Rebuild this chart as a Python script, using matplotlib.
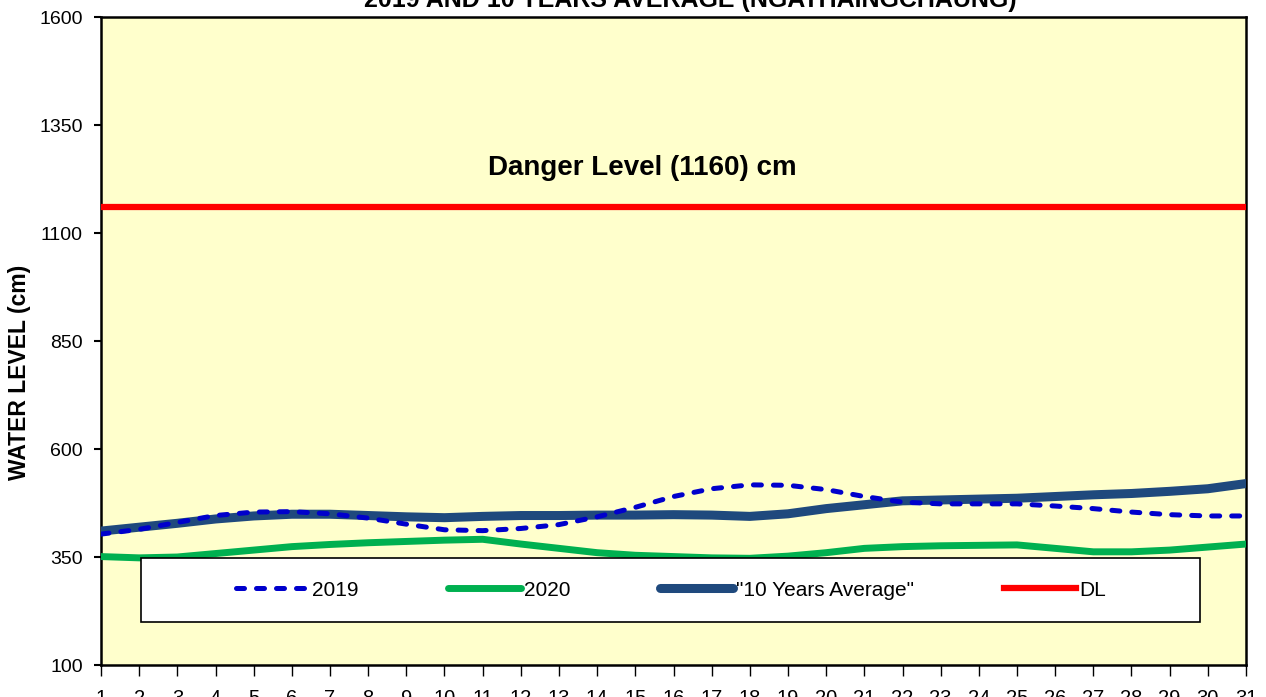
import matplotlib
matplotlib.use("Agg")
import matplotlib.pyplot as plt
from matplotlib.patches import Rectangle
from matplotlib import font_manager as fm

days = list(range(1, 32))
y2019 = [403, 414, 430, 446, 454, 455, 450, 440, 426, 413, 411, 416, 425, 443, 465, 490,
         508, 517, 516, 506, 490, 477, 473, 473, 473, 468, 462, 454, 448, 445, 445]
y2020 = [351, 348, 350, 358, 366, 374, 379, 383, 386, 389, 391, 380, 370, 360, 354, 351,
         348, 347, 352, 360, 370, 374, 376, 377, 378, 370, 362, 362, 366, 373, 380]
avg10 = [410, 419, 428, 438, 445, 449, 449, 446, 443, 441, 444, 446, 446, 447, 447, 448,
         447, 444, 450, 462, 471, 480, 482, 484, 486, 490, 494, 497, 502, 508, 520]
danger_level = 1160
yticks = [100, 350, 600, 850, 1100, 1350, 1600]

names = {f.name for f in fm.fontManager.ttflist}
base = "Liberation Sans" if "Liberation Sans" in names else "DejaVu Sans"
narrow = "Liberation Sans Narrow" if "Liberation Sans Narrow" in names else base
plt.rcParams["font.family"] = [base, "DejaVu Sans"]

fig = plt.figure(figsize=(12.66, 6.97), dpi=100)
fig.patch.set_facecolor("white")
ax = fig.add_axes([101/1266, 1 - 665/697, 1145/1266, 648/697])
ax.set_facecolor("#FFFFCC")

ax.plot(days, avg10, color="#1F497D", lw=6.5, solid_capstyle="round", solid_joinstyle="round",
        label='"10 Years Average"', zorder=3)
ax.plot(days, y2020, color="#00B050", lw=5, solid_capstyle="round", solid_joinstyle="round",
        label="2020", zorder=3)
ax.plot(days, y2019, color="#0000CC", lw=3.6, dashes=(1.6, 2.4), dash_capstyle="round",
        label="2019", zorder=4)
ax.plot([days[0], days[-1]], [danger_level, danger_level], color="#FF0000", lw=4.5,
        label="DL", zorder=3)

ax.set_xlim(days[0], days[-1])
ax.set_ylim(yticks[0], yticks[-1])
ax.set_xticks(days)
ax.set_xticklabels([str(d) for d in days])
ax.set_yticks(yticks)
ax.tick_params(axis="x", direction="out", length=8, width=1, pad=9, labelsize=14.5)
ax.tick_params(axis="y", direction="out", length=5, width=1.5, pad=8, labelsize=14)
for s in ax.spines.values():
    s.set_linewidth(1.8)
    s.set_color("black")

ax.text(541/1145, 497/648, "Danger Level (1160) cm", transform=ax.transAxes, ha="center",
        va="center", fontsize=20, fontweight="bold", family=[narrow, "DejaVu Sans"])

fig.text(20/1266, 1 - 372/697, "WATER LEVEL (cm)", rotation=90, ha="center", va="center",
         fontsize=16.5, fontweight="bold")
fig.text(690/1266, 1 - 7/697, "2019 AND 10 YEARS AVERAGE (NGATHAINGCHAUNG)", ha="center",
         va="baseline", fontsize=18, fontweight="bold")

# legend box
rect = Rectangle((40/1145, 43/648), 1059/1145, 64/648, transform=ax.transAxes,
                 facecolor="white", edgecolor="black", lw=1.2, zorder=5)
ax.add_patch(rect)
h, l = ax.get_legend_handles_labels()
order = [2, 1, 0, 3]
leg = ax.legend([h[i] for i in order], [l[i] for i in order], ncol=4, loc="center",
                bbox_to_anchor=(570/1145, 75/648), frameon=False, fontsize=15,
                handlelength=3.5, handletextpad=0.15, columnspacing=4.3)
leg.set_zorder(6)

fig.savefig("out.png", dpi=100)
